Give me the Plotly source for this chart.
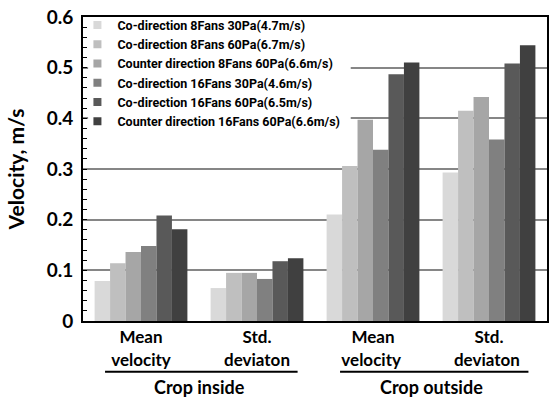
import plotly.graph_objects as go

categories = ["Mean<br>velocity", "Std.<br>deviaton", "Mean<br>velocity ", "Std.<br>deviaton "]
group_labels = ["Crop inside", "Crop outside"]
series_names = [
    "Co-direction 8Fans 30Pa(4.7m/s)",
    "Co-direction 8Fans 60Pa(6.7m/s)",
    "Counter direction 8Fans 60Pa(6.6m/s)",
    "Co-direction 16Fans 30Pa(4.6m/s)",
    "Co-direction 16Fans 60Pa(6.5m/s)",
    "Counter direction 16Fans 60Pa(6.6m/s)",
]
s1 = [0.079, 0.065, 0.210, 0.293]
s2 = [0.114, 0.095, 0.306, 0.415]
s3 = [0.136, 0.095, 0.397, 0.442]
s4 = [0.148, 0.083, 0.338, 0.358]
s5 = [0.208, 0.118, 0.487, 0.508]
s6 = [0.181, 0.124, 0.510, 0.544]
series_values = [s1, s2, s3, s4, s5, s6]
colors = ["#D9D9D9", "#BFBFBF", "#A6A6A6", "#808080", "#595959", "#404040"]
y_ticks = [0, 0.1, 0.2, 0.3, 0.4, 0.5, 0.6]
y_ticktext = ["0", "0.1", "0.2", "0.3", "0.4", "0.5", "0.6"]

FONT = "Lato"

fig = go.Figure()
for name, vals, col in zip(series_names, series_values, colors):
    fig.add_trace(go.Bar(x=categories, y=vals, name=name, marker=dict(color=col, line=dict(width=0)),
                         showlegend=False, legendgroup=name))
for name, col in zip(series_names, colors):
    fig.add_trace(go.Scatter(x=[None], y=[None], mode="markers", name=name, legendgroup=name,
                             marker=dict(symbol="square", size=8, color=col)))

fig.update_layout(
    width=554, height=401,
    margin=dict(l=83, r=5, t=14, b=80),
    paper_bgcolor="white", plot_bgcolor="white",
    barmode="group", bargap=0.2, bargroupgap=0,
    font=dict(family=FONT, color="black"),
    legend=dict(x=-0.012, y=1.022, xanchor="left", yanchor="top", bgcolor="rgba(0,0,0,0)",
                font=dict(family="Roboto", size=12.5, color="black", weight="bold"),
                tracegroupgap=0, itemwidth=30),
    xaxis=dict(type="category", showline=True, linecolor="black", linewidth=2, mirror=True,
               ticks="", tickfont=dict(family=FONT, size=17, color="black", weight="bold"),
               showgrid=False),
    yaxis=dict(range=[0, 0.6], tickvals=y_ticks, ticktext=y_ticktext, showline=True,
               linecolor="black", linewidth=2, mirror=True, ticks="inside", ticklen=4,
               tickcolor="black", tickwidth=1, showgrid=True, gridcolor="#868686", gridwidth=1.5,
               zeroline=False, ticklabelstandoff=4,
               tickfont=dict(family=FONT, size=19, color="black", weight="bold"),
               minor=dict(dtick=0.02, ticks="inside", ticklen=4, tickcolor="black", tickwidth=1, showgrid=False),
               title=dict(text="Velocity, m/s", font=dict(family=FONT, size=21, color="black", weight="bold"),
                          standoff=16)),
)

# white backing behind the legend so gridlines do not run through its text
fig.add_shape(type="rect", xref="paper", yref="paper", x0=0.011, x1=0.577, y0=0.63, y1=0.99,
              fillcolor="white", line=dict(width=0), layer="above")

# group labels and underlines
for i, lab in enumerate(group_labels):
    fig.add_annotation(x=2 * i + 0.5, xref="x", y=-0.218, yref="paper", text="<b>%s</b>" % lab,
                       showarrow=False, font=dict(family=FONT, size=18, color="black"), yanchor="middle")
line_spans = [(0.0475, 0.4625), (0.554, 0.96)]
for x0, x1 in line_spans:
    fig.add_shape(type="line", xref="paper", yref="paper", x0=x0, x1=x1, y0=-0.167, y1=-0.167,
                  line=dict(color="black", width=2))

fig.write_html("out.html", config={"displayModeBar": False},
               post_script="document.body.style.margin='0';")
